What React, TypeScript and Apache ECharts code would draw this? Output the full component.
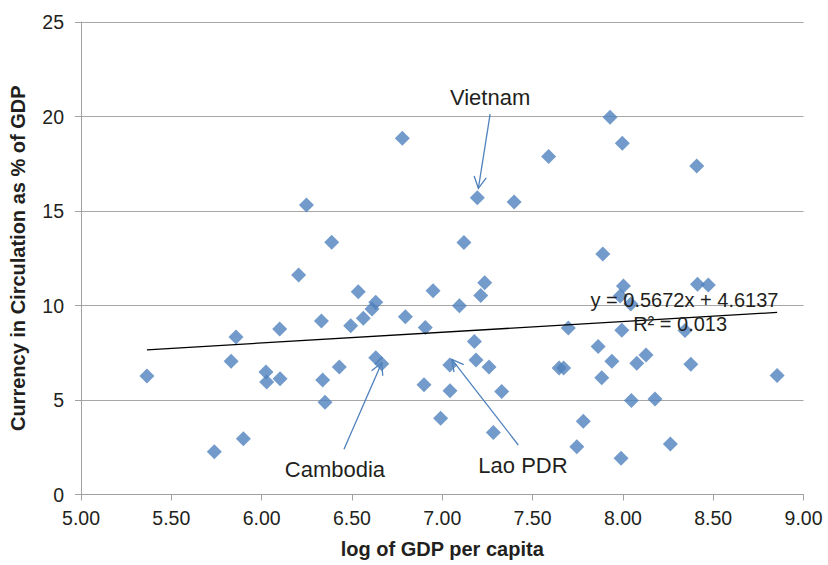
import React, { useEffect, useRef } from "react";
import * as echarts from "echarts";

// log of GDP per capita (x) and currency in circulation as % of GDP (y)
const gdpLog = [
  5.365, 5.738, 5.899, 5.831, 5.858, 6.024, 6.028, 6.102, 6.1, 6.248,
  6.205, 6.388, 6.331, 6.338, 6.351, 6.43, 6.493, 6.535, 6.563, 6.611,
  6.632, 6.632, 6.665, 6.779, 6.796, 6.899, 6.906, 6.949, 6.991, 7.043,
  7.042, 7.095, 7.12, 7.178, 7.187, 7.194, 7.213, 7.235, 7.259, 7.283,
  7.329, 7.398, 7.589, 7.698, 7.647, 7.672, 7.745, 7.781, 7.863, 7.883,
  7.889, 7.929, 7.939, 7.997, 7.994, 7.99, 8.003, 7.985, 8.044, 8.047,
  8.077, 8.128, 8.178, 8.263, 8.344, 8.376, 8.409, 8.413, 8.473, 8.854,
];
const currencyPct = [
  6.27, 2.26, 2.95, 7.05, 8.33, 6.48, 5.95, 6.13, 8.76, 15.32,
  11.61, 13.34, 9.18, 6.06, 4.88, 6.75, 8.93, 10.73, 9.32, 9.81,
  10.17, 7.24, 6.92, 18.85, 9.41, 5.81, 8.84, 10.78, 4.03, 5.49,
  6.85, 9.99, 13.33, 8.1, 7.12, 15.7, 10.53, 11.2, 6.74, 3.28,
  5.45, 15.48, 17.88, 8.81, 6.69, 6.69, 2.53, 3.87, 7.83, 6.18,
  12.72, 19.96, 7.05, 18.58, 8.69, 1.92, 11.03, 10.5, 10.08, 4.97,
  6.94, 7.38, 5.05, 2.67, 8.68, 6.89, 17.38, 11.13, 11.08, 6.3,
];

const trendSlope = 0.5672;
const trendIntercept = 4.6137;
const trendEquation = "y = 0.5672x + 4.6137";
const trendR2 = "R² = 0.013";

const xTitle = "log of GDP per capita";
const yTitle = "Currency in Circulation as % of GDP";

// annotation anchors in data coordinates
const annotations = [
  { label: "Vietnam", text: [7.265, 21.03], from: [7.265, 20.13], to: [7.2, 16.2] },
  { label: "Cambodia", text: [6.406, 1.3], from: [6.456, 2.39], to: [6.665, 6.97] },
  { label: "Lao PDR", text: [7.447, 1.56], from: [7.421, 2.62], to: [7.053, 7.15] },
];
const trendLabelPos = [8.341, 10.29];
const r2LabelPos = [8.317, 9.0];

const FONT = "'Liberation Sans', Arial, Helvetica, sans-serif";
const BLUE = "#4F81BD";

export default function App() {
  const ref = useRef<HTMLDivElement>(null);
  useEffect(() => {
    const chart = echarts.init(ref.current!, null, { renderer: "svg" });
    const points = gdpLog.map((x, i) => [x, currencyPct[i]]);
    const minX = Math.min(...gdpLog);
    const maxX = Math.max(...gdpLog);
    const trend = [
      [minX, trendSlope * minX + trendIntercept],
      [maxX, trendSlope * maxX + trendIntercept],
    ];
    chart.setOption({
      animation: false,
      backgroundColor: "#ffffff",
      textStyle: { fontFamily: FONT },
      grid: { left: 81, right: 24.5, top: 22, bottom: 70.5, containLabel: false },
      xAxis: {
        type: "value",
        min: 5,
        max: 9,
        interval: 0.5,
        name: xTitle,
        nameLocation: "middle",
        nameGap: 44,
        nameTextStyle: { fontFamily: FONT, fontWeight: "bold", fontSize: 20, color: "#231f20" },
        axisLine: { show: true, onZero: false, lineStyle: { color: "#a0a0a0", width: 1 } },
        axisTick: { show: true, length: 6, lineStyle: { color: "#a0a0a0" } },
        axisLabel: {
          formatter: (v: number) => v.toFixed(2),
          fontSize: 19.5,
          fontFamily: FONT,
          color: "#231f20",
          margin: 13,
        },
        splitLine: { show: false },
      },
      yAxis: {
        type: "value",
        min: 0,
        max: 25,
        interval: 5,
        name: yTitle,
        nameLocation: "middle",
        nameGap: 53,
        nameRotate: 90,
        nameTextStyle: { fontFamily: FONT, fontWeight: "bold", fontSize: 20, color: "#231f20" },
        axisLine: { show: true, lineStyle: { color: "#a0a0a0", width: 1 } },
        axisTick: { show: true, length: 6, lineStyle: { color: "#a0a0a0" } },
        axisLabel: { fontSize: 19.5, fontFamily: FONT, color: "#231f20", margin: 17 },
        splitLine: { show: true, lineStyle: { color: "#a6a6a6", width: 1 } },
      },
      series: [
        {
          type: "scatter",
          name: "Countries",
          data: points,
          symbol: "diamond",
          symbolSize: 15,
          itemStyle: { color: BLUE },
          z: 3,
        },
        {
          type: "line",
          name: "Linear trend",
          data: trend,
          symbol: "none",
          silent: true,
          lineStyle: { color: "#000000", width: 1.3 },
          z: 4,
        },
      ],
    });

    const px = (p: number[]) => chart.convertToPixel({ gridIndex: 0 }, p) as number[];
    const graphics: any[] = [];
    const arrowLen = 13;
    const arrowAng = (28 * Math.PI) / 180;
    annotations.forEach((a) => {
      const t = px(a.text);
      const s = px(a.from);
      const e = px(a.to);
      const dx = e[0] - s[0];
      const dy = e[1] - s[1];
      const len = Math.hypot(dx, dy);
      const ux = dx / len;
      const uy = dy / len;
      const arm = (ang: number) => {
        const c = Math.cos(ang);
        const sn = Math.sin(ang);
        const rx = ux * c - uy * sn;
        const ry = ux * sn + uy * c;
        return [e[0] - rx * arrowLen, e[1] - ry * arrowLen];
      };
      graphics.push({
        type: "line",
        shape: { x1: s[0], y1: s[1], x2: e[0], y2: e[1] },
        style: { stroke: BLUE, lineWidth: 1.3 },
        z: 10,
      });
      graphics.push({
        type: "polyline",
        shape: { points: [arm(arrowAng), e, arm(-arrowAng)] },
        style: { stroke: BLUE, lineWidth: 1.3, fill: null },
        z: 10,
      });
      graphics.push({
        type: "text",
        x: t[0],
        y: t[1],
        style: {
          text: a.label,
          fontSize: 22,
          fontFamily: FONT,
          fill: "#231f20",
          align: "center",
          verticalAlign: "middle",
          textAlign: "center",
          textVerticalAlign: "middle",
        },
        z: 10,
      });
    });
    const tl = px(trendLabelPos);
    const rl = px(r2LabelPos);
    [
      [trendEquation, tl],
      [trendR2, rl],
    ].forEach(([txt, p]: any) => {
      graphics.push({
        type: "text",
        x: p[0],
        y: p[1],
        style: {
          text: txt,
          fontSize: 20,
          fontFamily: FONT,
          fill: "#231f20",
          align: "center",
          verticalAlign: "middle",
          textAlign: "center",
          textVerticalAlign: "middle",
        },
        z: 10,
      });
    });
    chart.setOption({ graphic: graphics });
    return () => chart.dispose();
  }, []);
  return (
    <div
      ref={ref}
      style={{ position: "fixed", left: 0, top: 0, width: 828, height: 565, background: "#fff" }}
    />
  );
}
